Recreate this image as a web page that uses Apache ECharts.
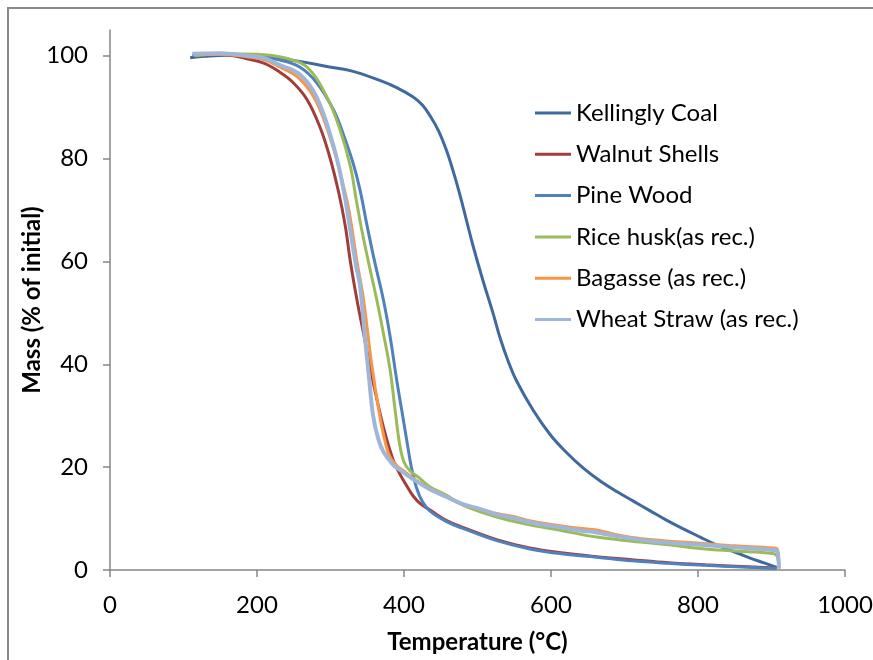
<!DOCTYPE html>
<html>
<head>
<meta charset="utf-8">
<script src="https://cdn.jsdelivr.net/npm/echarts@6/dist/echarts.min.js"></script>
<style>
  html, body { margin: 0; padding: 0; background: #fff; }
  #chart { width: 873px; height: 660px; }
</style>
</head>
<body>
<div id="chart"></div>
<script>
// [temperature °C, mass %]
const kellinglyCoal = [[109,99.6],[130,99.9],[160,100.1],[200,99.9],[230,99.4],[258,98.9],[295,97.9],[327,97.1],[367,95.2],[390,93.8],[412,92.0],[425,90.4],[435,88.4],[447,85.4],[458,81.5],[467,77.5],[476,73],[485,68],[494,63],[508,56],[521,50],[531,45],[542,40.5],[553,36.8],[576,31],[599,26.3],[620,23],[644,19.8],[667,17.3],[690,15.2],[712,13.4],[735,11.5],[757,9.7],[780,8.0],[803,6.4],[825,4.9],[848,3.6],[871,2.3],[890,1.4],[907,0.5]]
const walnutShells = [[112,100],[150,100.3],[186,99.4],[210,98.5],[231,96.8],[249,94.8],[268,91.5],[286,86],[299,80.3],[311,73.5],[320,67],[327,60],[336,52.5],[345,46],[358,36.5],[372,27.8],[385,21.5],[395,18.5],[404,16.3],[413,14.3],[423,12.8],[435,11.7],[458,9.6],[480,8.3],[526,5.9],[571,4.3],[617,3.3],[662,2.6],[710,2.0],[760,1.4],[810,1.0],[860,0.7],[907,0.4]]
const pineWood = [[112,100],[150,100.3],[200,99.9],[230,99.2],[258,97.8],[281,94.8],[304,89.5],[318,84.5],[331,79],[340,74],[349,67.5],[360,60],[372,52.5],[381,45.5],[390,37],[397,31],[404,25],[410,20],[417,16],[425,13.3],[435,11.5],[458,9.4],[480,8.1],[526,5.7],[571,4.1],[617,3.1],[662,2.5],[710,1.8],[760,1.3],[810,0.9],[860,0.6],[907,0.3]]
const riceHusk = [[115,100],[150,100.4],[200,100.3],[218,100.1],[240,99.5],[268,97.8],[295,92],[313,85.6],[327,78.5],[335,72],[342,66.5],[353,59],[363,52.5],[372,46],[381,39],[388,31],[394,24.5],[400,21],[408,19.3],[420,18],[435,16.2],[458,14.5],[480,12.6],[526,10.3],[571,8.8],[617,7.6],[662,6.4],[710,5.6],[760,4.9],[803,4.2],[850,3.7],[902,3.2],[908,2.6],[910,0.3]]
const bagasse = [[118,100.2],[150,100.3],[186,99.8],[210,99.2],[231,97.8],[258,95.5],[281,91],[304,82],[317,75],[325,70],[336,60],[345,52.5],[356,40],[367,30],[375,24.5],[381,22],[390,20.3],[400,19.2],[413,17.8],[435,15.8],[458,14.3],[480,12.8],[503,11.8],[526,11],[549,10.4],[571,9.6],[594,9],[617,8.5],[639,8.1],[662,7.8],[685,7],[710,6.3],[730,6],[760,5.6],[803,5.2],[850,4.7],[902,4.3],[908,4],[910,0.3]]
const wheatStraw = [[112,100.4],[150,100.5],[186,100],[210,99.5],[231,98.2],[258,96.4],[281,92],[304,82.5],[317,74.5],[327,66],[335,59],[340,55.5],[347,45],[352,38],[358,30],[365,25.5],[372,23],[385,20.5],[395,19.4],[413,17.6],[435,15.7],[458,14.2],[480,12.8],[503,11.9],[526,10.8],[549,10.1],[571,9.3],[594,8.7],[617,8.2],[639,7.7],[662,7.3],[685,6.7],[710,6.1],[730,5.7],[760,5.3],[803,4.9],[850,4.4],[902,3.9],[908,3.6],[910,0.3]]

const yTicks = [0, 20, 40, 60, 80, 100]

const seriesList = [
  { name: 'Kellingly Coal', data: kellinglyCoal, color: '#40699F', width: 3 },
  { name: 'Walnut Shells', data: walnutShells, color: '#A23E3A', width: 3 },
  { name: 'Pine Wood', data: pineWood, color: '#4F81BD', width: 3 },
  { name: 'Rice husk(as rec.)', data: riceHusk, color: '#9BBB59', width: 3 },
  { name: 'Bagasse (as rec.)', data: bagasse, color: '#F79646', width: 3 },
  { name: 'Wheat Straw (as rec.)', data: wheatStraw, color: '#A0B6D9', width: 4 }
]

const font = 'Lato, "Open Sans", sans-serif'
const axisGray = '#868686'

const chart = echarts.init(document.getElementById('chart'))

chart.setOption({
  animation: false,
  backgroundColor: '#fff',
  textStyle: { fontFamily: font },
  graphic: [{
    type: 'rect',
    shape: { x: 8, y: 8, width: 900, height: 700 },
    style: { fill: 'none', stroke: '#8a8a8a', lineWidth: 2 },
    silent: true
  }],
  grid: { left: 110, right: 28, top: 30, bottom: 90, outerBoundsMode: 'none' },
  legend: {
    orient: 'vertical',
    left: 530,
    top: 96,
    icon: 'rect',
    itemWidth: 36,
    itemHeight: 3,
    itemGap: 17.3,
    textStyle: { fontFamily: font, fontSize: 24, color: '#000', lineHeight: 23 },
    data: seriesList.map(s => s.name)
  },
  xAxis: {
    type: 'value',
    min: 0,
    max: 1000,
    interval: 200,
    name: 'Temperature (°C)',
    nameLocation: 'middle',
    nameGap: 60,
    nameMoveOverlap: false,
    nameTextStyle: { fontFamily: font, fontSize: 24, fontWeight: 'bold', color: '#000' },
    axisLine: { show: true, lineStyle: { color: axisGray, width: 1.5 } },
    axisTick: { show: true, length: 7, inside: false, lineStyle: { color: axisGray, width: 1.5 } },
    axisLabel: { fontFamily: font, fontSize: 24, color: '#000', margin: 23, formatter: v => String(v) },
    splitLine: { show: false }
  },
  yAxis: {
    type: 'value',
    min: 0,
    max: 105,
    interval: 20,
    name: 'Mass (% of initial)',
    nameLocation: 'middle',
    nameGap: 66,
    nameMoveOverlap: false,
    nameTextStyle: { fontFamily: font, fontSize: 24, fontWeight: 'bold', color: '#000' },
    axisLine: { show: true, lineStyle: { color: axisGray, width: 1.5 } },
    axisTick: { show: true, length: 7, inside: false, customValues: yTicks, lineStyle: { color: axisGray, width: 1.5 } },
    axisLabel: { fontFamily: font, fontSize: 24, color: '#000', margin: 22, customValues: yTicks },
    splitLine: { show: false }
  },
  series: seriesList.map(s => ({
    name: s.name,
    type: 'line',
    data: s.data,
    symbol: 'none',
    smooth: 0.4,
    color: s.color,
    lineStyle: { color: s.color, width: s.width }
  }))
})
</script>
</body>
</html>
